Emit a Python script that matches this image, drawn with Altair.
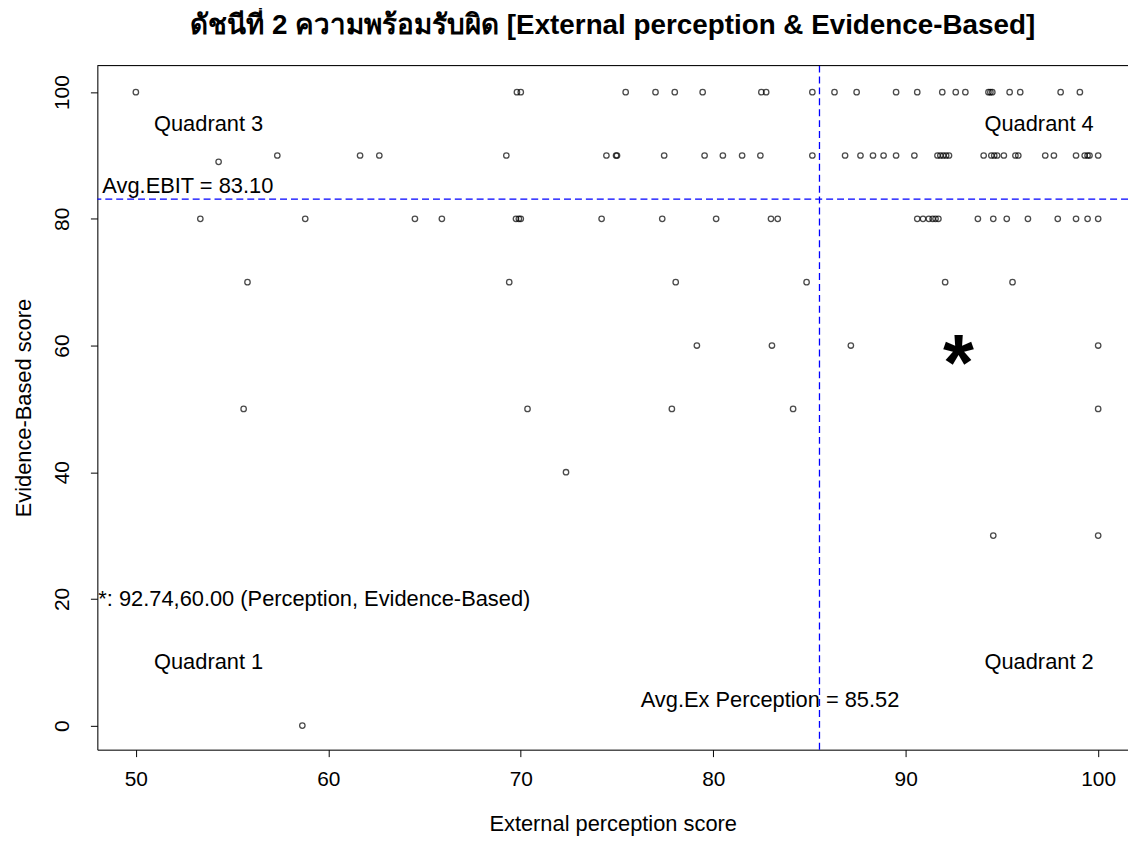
import altair as alt
import pandas as pd

# ---- data ----
x_at_100 = [50.0, 69.8, 70.0, 75.45, 77.0, 78.0, 79.45, 82.5, 82.75, 85.15, 86.3, 87.45,
            89.5, 90.6, 91.9, 92.6, 93.1, 94.3, 94.4, 94.5, 95.4, 95.95, 98.05, 99.05]
x_at_90 = [57.35, 61.65, 62.65, 69.25, 74.45, 74.95, 75.0, 77.45, 79.55, 80.5, 81.5, 82.45,
           85.15, 86.85, 87.65, 88.3, 88.85, 89.5, 90.45, 91.65, 91.8, 91.95, 92.1, 92.25,
           94.05, 94.45, 94.6, 94.75, 95.1, 95.7, 95.85, 97.25, 97.7, 98.85, 99.3, 99.45,
           99.55, 100.0]
x_at_89 = [54.3]
x_at_80 = [53.35, 58.8, 64.5, 65.9, 69.75, 69.9, 70.0, 74.2, 77.35, 80.15, 83.0, 83.35,
           90.6, 90.9, 91.2, 91.4, 91.55, 91.7, 93.75, 94.55, 95.25, 96.35, 97.9, 98.85,
           99.45, 100.0]
x_at_70 = [55.8, 69.4, 78.05, 84.85, 92.05, 95.55]
x_at_60 = [79.15, 83.05, 87.15, 100.0]
x_at_50 = [55.6, 70.35, 77.85, 84.15, 100.0]
x_at_40 = [72.35]
x_at_30 = [94.55, 100.0]
x_at_0 = [58.65]

avg_perception = 85.52
avg_ebit = 83.10
star_x = [92.74]
star_y = [60.00]

quad_labels = ["Quadrant 3", "Quadrant 4", "Quadrant 1", "Quadrant 2"]
quad_x = [53.78, 96.93, 53.78, 96.93]
quad_y = [95, 95, 10, 10]

title_text = "ดัชนีที่ 2 ความพร้อมรับผิด [External perception & Evidence-Based]"
x_title = "External perception score"
y_title = "Evidence-Based score"
x_ticks = [50, 60, 70, 80, 90, 100]
y_ticks = [0, 20, 40, 60, 80, 100]

# ---- tables ----
rows = []
for yv, xs in [(100, x_at_100), (90, x_at_90), (89, x_at_89), (80, x_at_80), (70, x_at_70),
               (60, x_at_60), (50, x_at_50), (40, x_at_40), (30, x_at_30), (0, x_at_0)]:
    for xv in xs:
        rows.append({"x": xv, "y": yv})
pts = pd.DataFrame(rows)

quad_df = pd.DataFrame({"x": quad_x, "y": quad_y, "label": quad_labels})
left_df = pd.DataFrame({
    "x": [48.26, 48.05],
    "y": [85.1, 20.0],
    "label": [f"Avg.EBIT = {avg_ebit:.2f}",
              f"*: {star_x[0]:.2f},{star_y[0]:.2f} (Perception, Evidence-Based)"],
})
center_df = pd.DataFrame({"x": [82.95], "y": [4.1],
                          "label": [f"Avg.Ex Perception = {avg_perception:.2f}"]})
star_df = pd.DataFrame({"x": star_x, "y": star_y})

FONT = "Liberation Sans"
XD = [48, 101.55]
YD = [-3.8, 104.2]

xs = alt.Scale(domain=XD, nice=False, zero=False)
ys = alt.Scale(domain=YD, nice=False, zero=False)

x_axis = alt.Axis(values=x_ticks, grid=False, title=x_title, tickSize=7, labelPadding=12,
                  labelFontSize=21, titleFontSize=22, titleFontWeight="normal",
                  titlePadding=24, domainColor="black", tickColor="black",
                  labelColor="black", titleColor="black", labelFont=FONT, titleFont=FONT)
y_axis = alt.Axis(values=y_ticks, grid=False, title=y_title, tickSize=7, labelPadding=18,
                  labelAngle=-90, labelAlign="center", labelBaseline="bottom",
                  labelFontSize=21, titleFontSize=22, titleFontWeight="normal",
                  titlePadding=16, domainColor="black", tickColor="black",
                  labelColor="black", titleColor="black", labelFont=FONT, titleFont=FONT)

points = alt.Chart(pts).mark_point(shape="circle", filled=False, color="black",
                                   size=30, strokeWidth=1.3).encode(
    x=alt.X("x:Q", scale=xs, axis=x_axis),
    y=alt.Y("y:Q", scale=ys, axis=y_axis),
)

vline = alt.Chart(pd.DataFrame({"v": [avg_perception]})).mark_rule(
    color="#0000FF", strokeDash=[7, 4], strokeWidth=1.3).encode(x=alt.X("v:Q", scale=xs))
hline = alt.Chart(pd.DataFrame({"v": [avg_ebit]})).mark_rule(
    color="#0000FF", strokeDash=[7, 4], strokeWidth=1.3).encode(y=alt.Y("v:Q", scale=ys))
top_border = alt.Chart(pd.DataFrame({"v": [YD[1]]})).mark_rule(
    color="black", strokeWidth=1).encode(y=alt.Y("v:Q", scale=ys))

quads = alt.Chart(quad_df).mark_text(font=FONT, fontSize=22, color="black",
                                     align="center", baseline="middle").encode(
    x=alt.X("x:Q", scale=xs), y=alt.Y("y:Q", scale=ys), text="label:N")
lefts = alt.Chart(left_df).mark_text(font=FONT, fontSize=22, color="black",
                                     align="left", baseline="middle").encode(
    x=alt.X("x:Q", scale=xs), y=alt.Y("y:Q", scale=ys), text="label:N")
centers = alt.Chart(center_df).mark_text(font=FONT, fontSize=22, color="black",
                                         align="center", baseline="middle").encode(
    x=alt.X("x:Q", scale=xs), y=alt.Y("y:Q", scale=ys), text="label:N")
star = alt.Chart(star_df).mark_text(text="*", font=FONT, fontSize=80, fontWeight="bold",
                                    color="black", align="center", baseline="alphabetic",
                                    dy=45).encode(
    x=alt.X("x:Q", scale=xs), y=alt.Y("y:Q", scale=ys))

chart = alt.layer(vline, hline, top_border, points, quads, lefts, centers, star).properties(
    width=1038, height=689,
    title=alt.TitleParams(title_text, font=FONT, fontSize=28, fontWeight="bold",
                          color="black", anchor="middle", offset=25),
    autosize=alt.AutoSizeParams(type="none"),
    padding={"left": 90, "top": 55, "right": 0, "bottom": 88},
).configure_view(stroke=None).configure(background="white")

chart.save("out.html", embed_options={"renderer": "svg", "actions": False})
